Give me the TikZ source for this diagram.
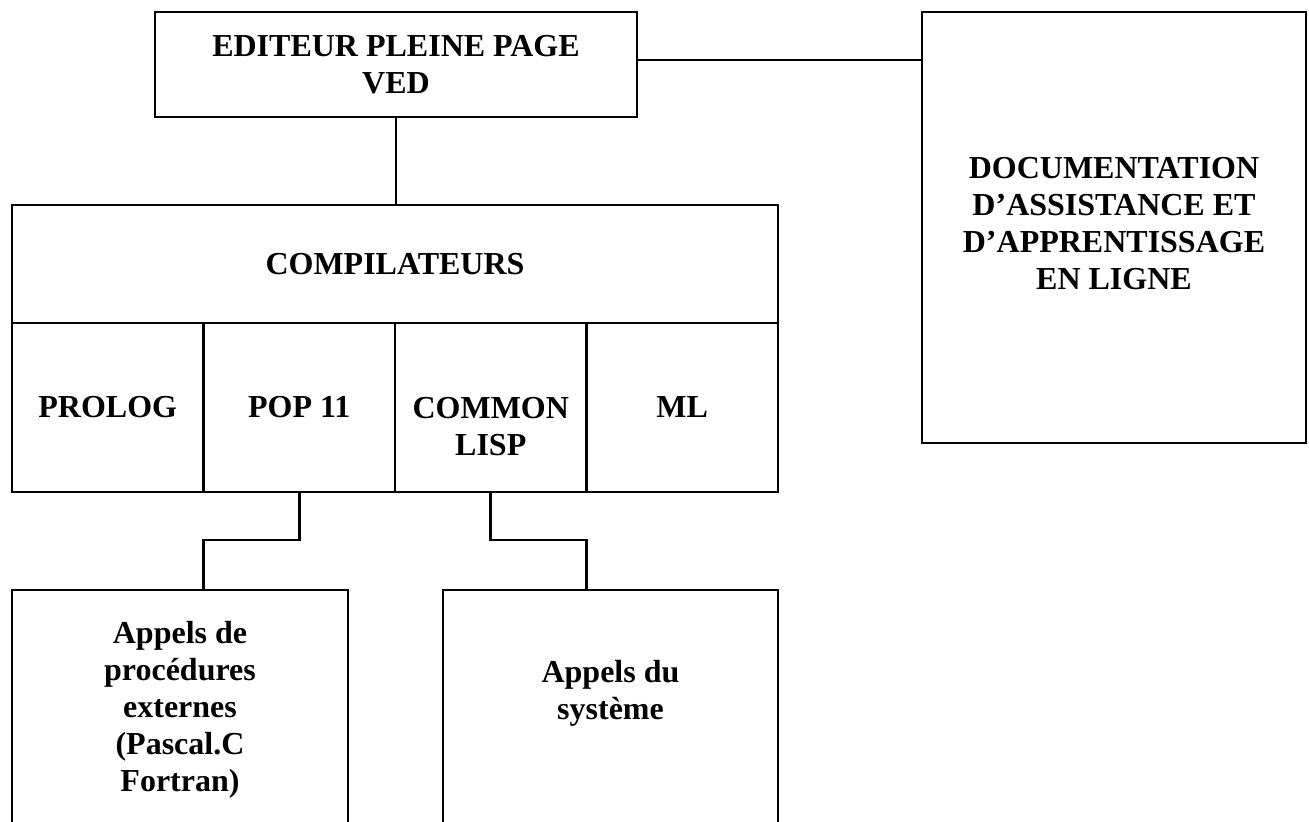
\documentclass[tikz,border=0pt]{standalone}
\usepackage{fontspec}
\setmainfont{Liberation Serif}
\usetikzlibrary{positioning}

\begin{document}
\begin{tikzpicture}[
  x=0.5pt, y=-0.5pt,
  box/.style={rectangle, draw, line width=1.3pt, inner sep=0pt, outer sep=0pt, align=center, font=\fontsize{16}{18.5}\selectfont\bfseries},
  cell/.style={box, minimum width=95.75pt, minimum height=84.5pt},
  link/.style={line width=1.3pt}
]
  \useasboundingbox (0,0) rectangle (1309,822);
  \clip (0,0) rectangle (1309,822);

  \node[box, minimum width=241pt, minimum height=52.5pt] (ved) at (396,64.5) {EDITEUR PLEINE PAGE\\VED};
  \node[box, minimum width=192pt, minimum height=215.5pt, text depth=4pt] (doc) at (1114,227.5) {DOCUMENTATION\\D’ASSISTANCE ET\\D’APPRENTISSAGE\\EN LIGNE};
  \node[box, minimum width=383pt, minimum height=59pt] (comp) at (395,264) {COMPILATEURS};
  \node[cell, anchor=north west] (prolog) at (comp.south west) {PROLOG};
  \node[cell, right=0pt of prolog] (pop) {POP 11};
  \node[cell, right=0pt of pop, text height=48pt] (lisp) {COMMON\\LISP};
  \node[cell, right=0pt of lisp] (ml) {ML};
  \node[box, minimum width=168pt, minimum height=130pt, text depth=14pt] (proc) at (180,720) {Appels de\\procédures\\externes\\(Pascal.C\\Fortran)};
  \node[box, minimum width=167.5pt, minimum height=130pt, text depth=30pt] (sys) at (610.5,720) {Appels du\\système};

  \draw[link] ([yshift=2.25pt]ved.east) -- ([yshift=2.25pt]ved.east -| doc.west);
  \draw[link] (ved.south) -- (ved.south |- comp.north);
  \draw[link] (pop.south) -- ++(0,48) -| (proc.north -| prolog.east);
  \draw[link] (lisp.south) -- ++(0,48) -| (sys.north -| lisp.east);
\end{tikzpicture}
\end{document}
